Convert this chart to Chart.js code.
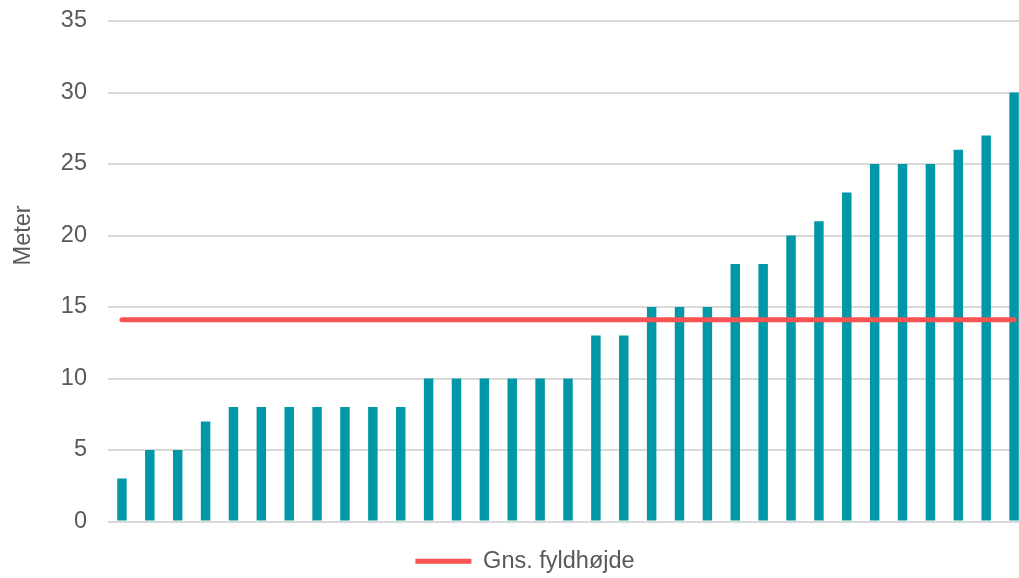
<!DOCTYPE html>
<html>
<head>
<meta charset="utf-8">
<script src="https://cdn.jsdelivr.net/npm/chart.js@4/dist/chart.umd.min.js"></script>
<style>
  html, body { margin: 0; padding: 0; background: #fff; overflow: hidden; }
  #wrap { width: 1050px; height: 578px; position: relative; }
</style>
</head>
<body>
<div id="wrap"><canvas id="fillChart"></canvas></div>
<script>
// data
var categories = ['1','2','3','4','5','6','7','8','9','10','11','12','13','14','15','16','17',
    '18','19','20','21','22','23','24','25','26','27','28','29','30','31','32','33'];
var heights = [3, 5, 5, 7, 8, 8, 8, 8, 8, 8, 8, 10, 10, 10, 10, 10, 10,
    13, 13, 15, 15, 15, 18, 18, 20, 21, 23, 25, 25, 25, 26, 27, 30];
var avgHeight = [14.1, 14.1, 14.1, 14.1, 14.1, 14.1, 14.1, 14.1, 14.1, 14.1, 14.1,
    14.1, 14.1, 14.1, 14.1, 14.1, 14.1, 14.1, 14.1, 14.1, 14.1, 14.1, 14.1, 14.1,
    14.1, 14.1, 14.1, 14.1, 14.1, 14.1, 14.1, 14.1, 14.1];
var yTicks = [0, 5, 10, 15, 20, 25, 30, 35];

var textColor = '#595959';
var gridColor = '#d9d9d9';
var barColor = '#0098a6';
var lineColor = '#f85252';
var fontFamily = '"Liberation Sans", Arial, sans-serif';

Chart.defaults.font.family = fontFamily;
Chart.defaults.color = textColor;

var ctx = document.getElementById('fillChart').getContext('2d');
var fillChart = new Chart(ctx, {
    data: {
        labels: categories,
        datasets: [{
            type: 'line',
            label: 'Gns. fyldhøjde',
            data: avgHeight,
            borderColor: lineColor,
            backgroundColor: lineColor,
            borderWidth: 5,
            borderCapStyle: 'round',
            pointRadius: 0,
            order: 0
        }, {
            type: 'bar',
            label: 'Fyldhøjde',
            data: heights,
            backgroundColor: barColor,
            categoryPercentage: 1,
            barPercentage: 0.34,
            order: 1
        }]
    },
    options: {
        responsive: true,
        maintainAspectRatio: false,
        animation: false,
        layout: { padding: { top: 21, bottom: -5 } },
        scales: {
            x: {
                display: true,
                grid: { display: false },
                border: { display: false },
                ticks: { display: false },
                afterFit: function(scale) { scale.height = 25; }
            },
            y: {
                min: 0,
                max: 35,
                afterBuildTicks: function(scale) {
                    scale.ticks = yTicks.map(function(v) { return { value: v }; });
                },
                grid: { color: gridColor, lineWidth: 2, drawTicks: false },
                border: { display: false },
                ticks: { padding: 21, font: { size: 23.5 }, color: textColor },
                title: {
                    display: true,
                    text: '\u00a0\u00a0\u00a0\u00a0\u00a0\u00a0\u00a0\u00a0\u00a0\u00a0\u00a0Meter',
                    font: { size: 23.5 },
                    color: textColor,
                    padding: { top: 9, bottom: 0 }
                },
                afterFit: function(scale) {
                    scale.width = 108;
                    scale.paddingTop = 0;
                    scale.paddingBottom = 0;
                }
            },
            y2: {
                position: 'right',
                display: true,
                grid: { display: false },
                border: { display: false },
                ticks: { display: false },
                afterFit: function(scale) { scale.width = 22; }
            }
        },
        plugins: {
            legend: {
                position: 'bottom',
                labels: {
                    filter: function(item) { return item.text === 'Gns. fyldhøjde'; },
                    usePointStyle: true,
                    pointStyle: 'line',
                    pointStyleWidth: 56,
                    font: { size: 23.5 },
                    color: textColor,
                    padding: 3
                }
            },
            tooltip: { enabled: false }
        }
    }
});
</script>
</body>
</html>
